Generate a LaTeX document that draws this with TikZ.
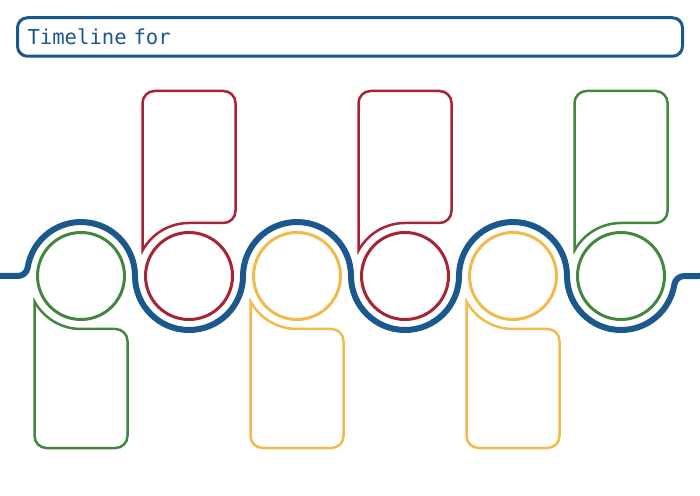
\documentclass[tikz,border=0pt]{standalone}
\usepackage{fontspec}
\setmonofont{DejaVu Sans Mono}
\definecolor{tlblue}{RGB}{27,88,141}
\definecolor{tlred}{RGB}{166,36,51}
\definecolor{tlgreen}{RGB}{67,135,63}
\definecolor{tlyellow}{RGB}{242,185,76}
% bubble above a ring: #1 colour, #2 ring
\newcommand{\bubbleup}[2]{%
  \draw[bubble,#1,shift={(#2.center)}] (0,53) arc[start angle=90,end angle=151.3,radius=53]
    -- (-46.5,173) arc[start angle=180,end angle=90,radius=12]
    -- (34.5,185) arc[start angle=90,end angle=0,radius=12]
    -- (46.5,65) arc[start angle=0,end angle=-90,radius=12] -- cycle;}
% bubble below a ring
\newcommand{\bubbledown}[2]{%
  \draw[bubble,#1,shift={(#2.center)}] (0,-53) arc[start angle=-90,end angle=-151.3,radius=53]
    -- (-46.5,-160) arc[start angle=180,end angle=270,radius=12]
    -- (34.5,-172) arc[start angle=-90,end angle=0,radius=12]
    -- (46.5,-65) arc[start angle=0,end angle=90,radius=12] -- cycle;}
\begin{document}
\begin{tikzpicture}[x=1pt,y=1pt,
		ring/.style={circle,draw,line width=3,inner sep=0pt,minimum size=87},
		bubble/.style={line width=2.5,line join=miter},
		wave/.style={tlblue,line width=6}]
			\useasboundingbox (0,0) rectangle (700,495);
			\node[draw=tlblue,line width=3,rounded corners=10,minimum height=38.5,text width=645,inner xsep=10pt,align=left,text=tlblue,font=\ttfamily\fontsize{20.6}{22}\selectfont](title) at (350,458){Timeline for};
			\node[ring,tlgreen](m1) at (81,219){};
			\node[ring,tlred](m2) at (189,219){};
			\node[ring,tlyellow](m3) at (297,219){};
			\node[ring,tlred](m4) at (405,219){};
			\node[ring,tlyellow](m5) at (513,219){};
			\node[ring,tlgreen](m6) at (621,219){};
			\bubbledown{tlgreen}{m1}
			\bubbleup{tlred}{m2}
			\bubbledown{tlyellow}{m3}
			\bubbleup{tlred}{m4}
			\bubbledown{tlyellow}{m5}
			\bubbleup{tlgreen}{m6}
			\draw[wave](0,219) -- (17.8,219) arc[start angle=-90,end angle=-9,radius=10]
				arc[start angle=171,end angle=0,radius=54]
				arc[start angle=180,end angle=360,radius=54]
				arc[start angle=180,end angle=0,radius=54]
				arc[start angle=180,end angle=360,radius=54]
				arc[start angle=180,end angle=0,radius=54]
				arc[start angle=180,end angle=351,radius=54]
				arc[start angle=171,end angle=90,radius=10] -- (700,219);
		\end{tikzpicture}
\end{document}
